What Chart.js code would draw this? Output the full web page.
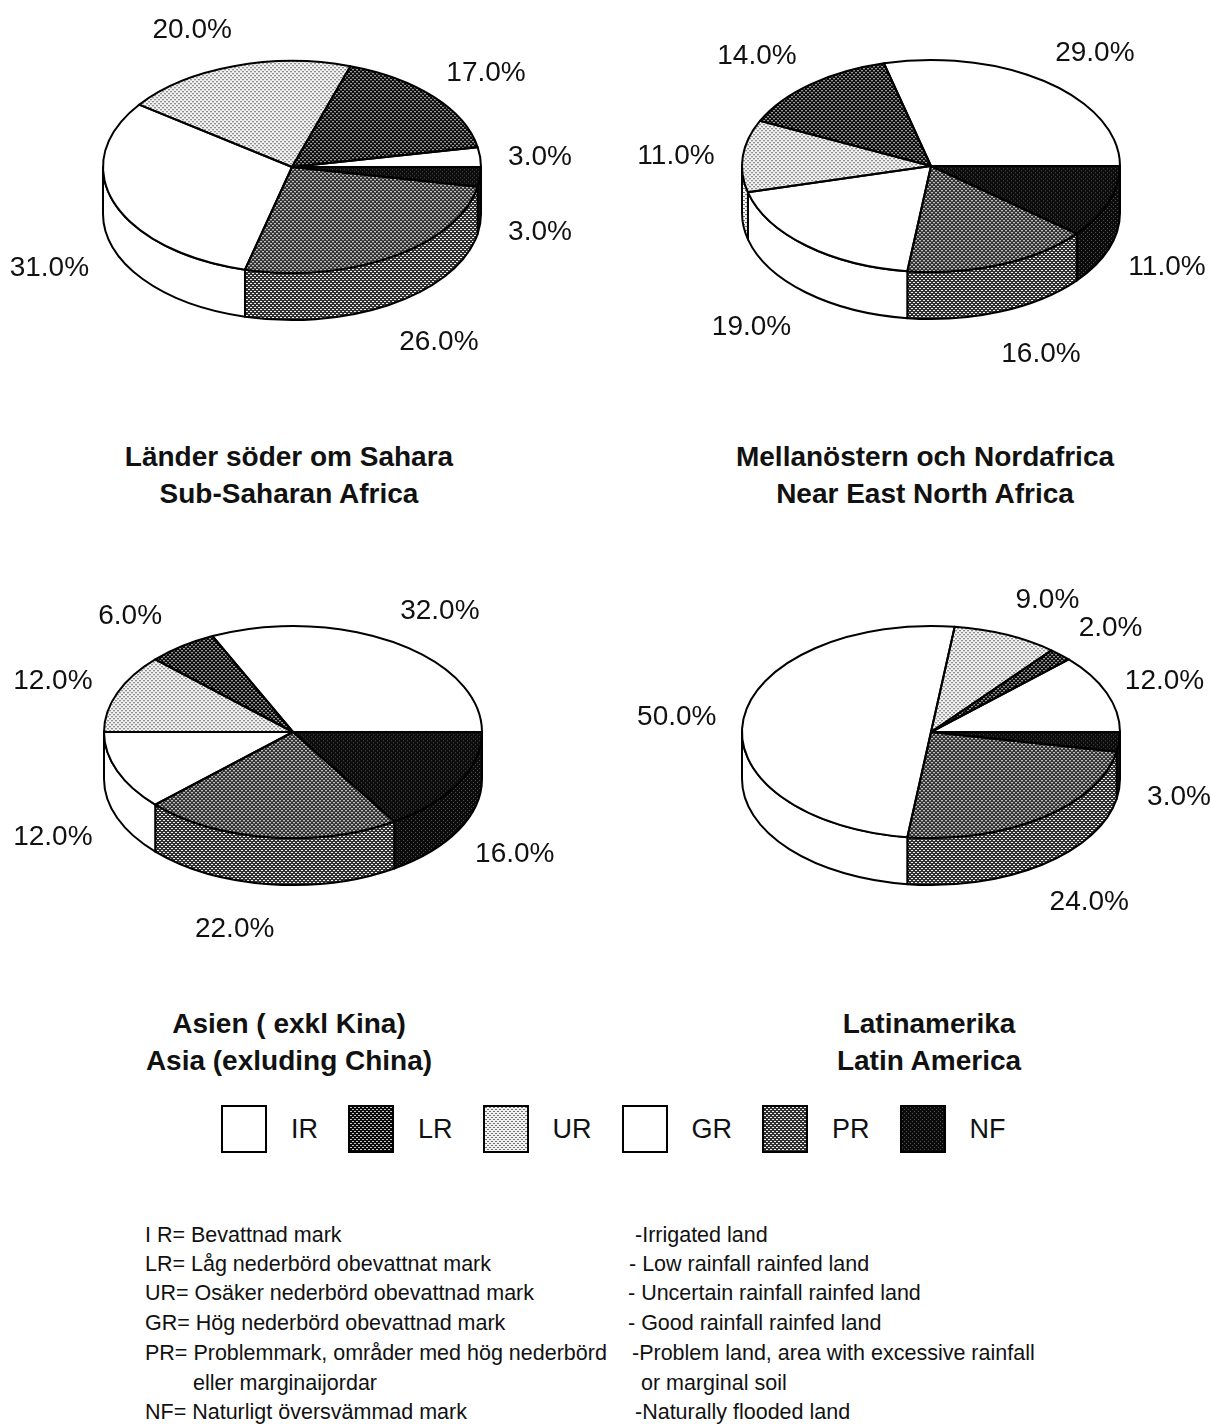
<!DOCTYPE html>
<html><head><meta charset="utf-8">
<script src="https://cdn.jsdelivr.net/npm/chart.js@4/dist/chart.umd.min.js"></script>
<style>
html,body{margin:0;padding:0;background:#fff;}
body{width:1210px;height:1424px;position:relative;overflow:hidden;font-family:"Liberation Sans",Arial,Helvetica,sans-serif;color:#111;}
.pie{position:absolute;}
.title{position:absolute;width:600px;text-align:center;font-weight:bold;font-size:28px;line-height:37px;}
.legend{position:absolute;left:221px;top:1105px;height:48px;display:flex;align-items:center;}
.legend canvas{display:block;}
.legend span{font-size:27px;margin:0 30px 0 24px;}
.note{position:absolute;font-size:21.5px;line-height:24px;white-space:pre;}
</style></head><body>
<canvas id="c0" class="pie" width="600" height="420" style="left:-8px;top:-43px"></canvas>
<canvas id="c1" class="pie" width="600" height="420" style="left:631px;top:-44px"></canvas>
<canvas id="c2" class="pie" width="600" height="420" style="left:-7px;top:522px"></canvas>
<canvas id="c3" class="pie" width="600" height="420" style="left:631px;top:522px"></canvas>

<div class="title" style="left:-11px;top:438px">Länder söder om Sahara<br>Sub-Saharan Africa</div>
<div class="title" style="left:625px;top:438px">Mellanöstern och Nordafrica<br>Near East North Africa</div>
<div class="title" style="left:-11px;top:1005px">Asien ( exkl Kina)<br>Asia (exluding China)</div>
<div class="title" style="left:629px;top:1005px">Latinamerika<br>Latin America</div>

<div class="legend" id="legend"></div>

<div class="note" style="left:145px;top:1223px">I R= Bevattnad mark</div>
<div class="note" style="left:145px;top:1252px">LR= Låg nederbörd obevattnat mark</div>
<div class="note" style="left:145px;top:1281px">UR= Osäker nederbörd obevattnad mark</div>
<div class="note" style="left:145px;top:1311px">GR= Hög nederbörd obevattnad mark</div>
<div class="note" style="left:145px;top:1341px">PR= Problemmark, områder med hög nederbörd</div>
<div class="note" style="left:193px;top:1371px">eller marginaijordar</div>
<div class="note" style="left:145px;top:1400px">NF= Naturligt översvämmad mark</div>

<div class="note" style="left:635px;top:1223px">-Irrigated land</div>
<div class="note" style="left:629px;top:1252px">- Low rainfall rainfed land</div>
<div class="note" style="left:628px;top:1281px">- Uncertain rainfall rainfed land</div>
<div class="note" style="left:628px;top:1311px">- Good rainfall rainfed land</div>
<div class="note" style="left:632px;top:1341px">-Problem land, area with excessive rainfall</div>
<div class="note" style="left:641px;top:1371px">or marginal soil</div>
<div class="note" style="left:635px;top:1400px">-Naturally flooded land</div>

<script>
// ---- data ----
const CODES = ['IR', 'LR', 'UR', 'GR', 'PR', 'NF'];
const SUB_SAHARAN = [3, 17, 20, 31, 26, 3];
const NEAR_EAST = [29, 14, 11, 19, 16, 11];
const ASIA = [32, 6, 12, 12, 22, 16];
const LATIN_AMERICA = [12, 2, 9, 50, 24, 3];

// ---- styles ----
const K = 106 / 189;      // vertical squash of the pie top
const DEPTH = 47;         // thickness of the 3D pie
const STYLE = {
  IR: {base: '#ffffff'},
  LR: {base: '#0a0a0a', dot: '#c8c8c8', w: 2},
  UR: {base: '#f2f2f2', dot: '#707070', w: 2},
  GR: {base: '#ffffff'},
  PR: {base: '#303030', dot: '#f0f0f0', w: 2},
  NF: {base: '#0c0c0c', dot: '#4a4a4a', w: 1}
};

function makePattern(ctx, code, squash) {
  const s = STYLE[code];
  const t = document.createElement('canvas');
  t.width = 4; t.height = 4;
  const g = t.getContext('2d');
  g.fillStyle = s.base; g.fillRect(0, 0, 4, 4);
  if (s.dot) {
    g.fillStyle = s.dot;
    g.fillRect(0, 0, s.w, 1);
    g.fillRect(2, 2, s.w, 1);
  }
  const p = ctx.createPattern(t, 'repeat');
  if (squash) p.setTransform(new DOMMatrix().scale(1, 1 / squash));
  return p;
}

const pie3d = {
  id: 'pie3d',
  beforeDatasetsDraw(chart) {
    const ctx = chart.ctx;
    const meta = chart.getDatasetMeta(0);
    const a0 = meta.data[0];
    const cx = a0.x, cy = a0.y, rx = a0.outerRadius, ry = rx * K;
    const codes = chart.data.labels;
    ctx.save();
    ctx.lineWidth = 2;
    ctx.strokeStyle = '#000';
    ctx.lineJoin = 'round';
    meta.data.forEach((arc, i) => {
      const a1 = Math.max(arc.startAngle, 0);
      const a2 = Math.min(arc.endAngle, Math.PI);
      if (a2 <= a1) return;
      ctx.beginPath();
      ctx.ellipse(cx, cy, rx, ry, 0, a1, a2, false);
      ctx.ellipse(cx, cy + DEPTH, rx, ry, 0, a2, a1, true);
      ctx.closePath();
      ctx.fillStyle = makePattern(ctx, codes[i], 0);
      ctx.fill();
      ctx.stroke();
    });
    ctx.restore();
    ctx.save();
    ctx.translate(cx, cy);
    ctx.scale(1, K);
    ctx.translate(-cx, -cy);
  },
  afterDatasetsDraw(chart) {
    const ctx = chart.ctx;
    ctx.restore();
    const meta = chart.getDatasetMeta(0);
    const a0 = meta.data[0];
    const cx = a0.x, cy = a0.y, rx = a0.outerRadius, ry = rx * K;
    const vals = chart.data.datasets[0].data;
    ctx.save();
    ctx.lineWidth = 2;
    ctx.strokeStyle = '#000';
    ctx.lineJoin = 'round';
    meta.data.forEach((arc) => {
      ctx.beginPath();
      ctx.moveTo(cx, cy);
      ctx.ellipse(cx, cy, rx, ry, 0, arc.startAngle, arc.endAngle, false);
      ctx.closePath();
      ctx.stroke();
    });
    ctx.fillStyle = '#111';
    ctx.font = '28px "Liberation Sans", Arial, Helvetica, sans-serif';
    ctx.textBaseline = 'middle';
    ctx.textAlign = 'center';
    meta.data.forEach((arc, i) => {
      const mid = (arc.startAngle + arc.endAngle) / 2;
      const c = Math.cos(mid), s = Math.sin(mid);
      const x = c >= 0 ? cx + c * (rx + 31) + 29 : cx + c * (rx + 37) - 30;
      const y = cy + s * (ry + 41.5) + 4 + (s > 0 ? DEPTH : 0);
      ctx.fillText(vals[i].toFixed(1) + '%', x, y);
    });
    ctx.restore();
  }
};

function makePie(id, values) {
  const canvas = document.getElementById(id);
  const ctx = canvas.getContext('2d');
  // chart.js draws clockwise from its start angle; the reference runs counter-clockwise from 3 o'clock
  const codes = CODES.slice().reverse();
  const data = values.slice().reverse();
  return new Chart(canvas, {
    type: 'pie',
    data: {
      labels: codes,
      datasets: [{
        data: data,
        backgroundColor: codes.map(c => makePattern(ctx, c, K)),
        borderWidth: 0,
        hoverOffset: 0
      }]
    },
    options: {
      responsive: false,
      animation: false,
      events: [],
      rotation: 90,
      layout: {padding: {left: 111, right: 111, top: 21, bottom: 21}},
      plugins: {legend: {display: false}, tooltip: {enabled: false}, title: {display: false}}
    },
    plugins: [pie3d]
  });
}

makePie('c0', SUB_SAHARAN);
makePie('c1', NEAR_EAST);
makePie('c2', ASIA);
makePie('c3', LATIN_AMERICA);

// legend
const leg = document.getElementById('legend');
CODES.forEach(code => {
  const b = document.createElement('canvas');
  b.width = 46; b.height = 48;
  const g = b.getContext('2d');
  g.fillStyle = makePattern(g, code, 0);
  g.fillRect(0, 0, 46, 48);
  g.lineWidth = 2; g.strokeStyle = '#000';
  g.strokeRect(1, 1, 44, 46);
  leg.appendChild(b);
  const sp = document.createElement('span');
  sp.textContent = code;
  leg.appendChild(sp);
});
</script>
</body></html>
